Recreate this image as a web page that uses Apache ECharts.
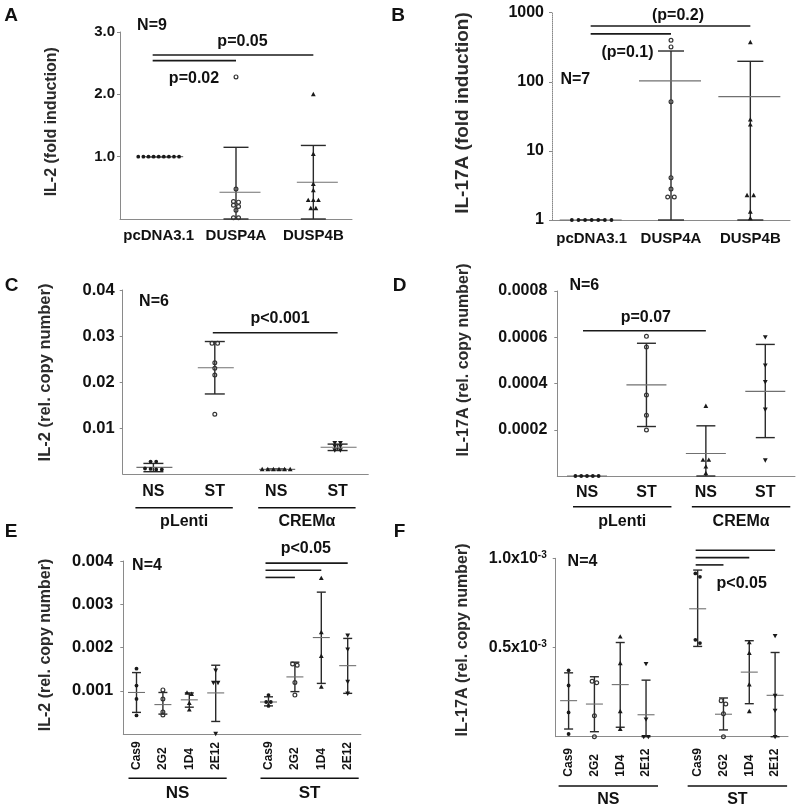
<!DOCTYPE html>
<html><head><meta charset="utf-8">
<script src="https://cdn.jsdelivr.net/npm/echarts@6/dist/echarts.min.js"></script>
<style>html,body{margin:0;padding:0;background:#fff}#c{width:800px;height:810px}</style>
</head><body><div id="c"></div>
<script>
// ================= DATA =================
// Panel A  IL-2 fold induction
const catsA = ['pcDNA3.1', 'DUSP4A', 'DUSP4B'];
const a_pcDNA = [1, 1, 1, 1, 1, 1, 1, 1, 1];
const a_DUSP4A = [2.28, 0.48, 0.28, 0.27, 0.22, 0.20, 0.14, 0.02, 0.02];
const a_DUSP4B = [2.0, 1.04, 0.56, 0.46, 0.30, 0.30, 0.30, 0.17, 0.17];
const a_mean = [1.0, 0.43, 0.59];
const a_hi = [1.0, 1.15, 1.18];
const a_lo = [1.0, 0, 0];
const a_sig = [[0, 1, 2.54], [0, 2, 2.63]];
const a_ticks = [0, 1, 2, 3];

// Panel B  IL-17A fold induction (log)
const catsB = ['pcDNA3.1', 'DUSP4A', 'DUSP4B'];
const b_pcDNA = [1, 1, 1, 1, 1, 1, 1];
const b_DUSP4A = [400, 320, 51.6, 4.1, 2.8, 2.15, 2.15];
const b_DUSP4B = [371, 28.2, 23.9, 2.27, 2.27, 1.31, 1.05];
const b_mean = [1, 103, 61];
const b_hi = [1, 279, 198];
const b_lo = [1, 1, 1];
const b_sig = [[0, 1, 493], [0, 2, 641]];
const b_ticks = [1, 10, 100, 1000];

// Panel C  IL-2 rel. copy number
const catsC = ['NS', 'ST', 'NS', 'ST'];
const groupsC = ['pLenti', 'CREMα'];
const c_pLenti_NS = [0.0027, 0.0027, 0.0012, 0.0011, 0.0010, 0.0010];
const c_pLenti_ST = [0.0284, 0.0284, 0.0242, 0.0230, 0.0215, 0.0130];
const c_CREM_NS = [0.0010, 0.0010, 0.0010, 0.0010, 0.0010, 0.0010];
const c_CREM_ST = [0.0068, 0.0068, 0.0061, 0.0061, 0.0052, 0.0052];
const c_mean = [0.00145, 0.0231, 0.0010, 0.0058];
const c_hi = [0.0023, 0.0288, 0.0011, 0.0065];
const c_lo = [0.0005, 0.0174, 0.0009, 0.0051];
const c_sig = [[1, 3, 0.0307]];

// Panel D  IL-17A rel. copy number
const catsD = ['NS', 'ST', 'NS', 'ST'];
const groupsD = ['pLenti', 'CREMα'];
const d_pLenti_NS = [0, 0, 0, 0, 0];
const d_pLenti_ST = [0.000604, 0.000558, 0.00035, 0.000263, 0.000199];
const d_CREM_NS = [0.000302, 0.000069, 0.000069, 0.00004, 0.0000115];
const d_CREM_ST = [0.000601, 0.000479, 0.000407, 0.000288, 0.000069];
const d_mean = [0, 0.000394, 0.000097, 0.000366];
const d_hi = [0, 0.000574, 0.000217, 0.000569];
const d_lo = [0, 0.000214, 0, 0.000166];
const d_sig = [[0, 2, 0.000628]];

// Panel E  IL-2 rel. copy number (CRISPR clones)
const catsE = ['Cas9', '2G2', '1D4', '2E12', '', 'Cas9', '2G2', '1D4', '2E12'];
const groupsE = ['NS', 'ST'];
const e_NS_Cas9 = [0.00151, 0.00112, 0.00081, 0.00043];
const e_NS_2G2 = [0.00102, 0.00081, 0.00051, 0.00044];
const e_NS_1D4 = [0.00095, 0.00092, 0.00071, 0.00056];
const e_NS_2E12 = [0.00147, 0.00119, 0.00119, 0.00001];
const e_ST_Cas9 = [0.00090, 0.00074, 0.00074, 0.00065];
const e_ST_2G2 = [0.00162, 0.00159, 0.00119, 0.00090];
const e_ST_1D4 = [0.00360, 0.00235, 0.00180, 0.00109];
const e_ST_2E12 = [0.00228, 0.00196, 0.00121, 0.00094];
const e_mean = [0.00096, 0.00068, 0.00079, 0.00095, null, 0.00074, 0.00132, 0.00223, 0.00158];
const e_hi = [0.00142, 0.00096, 0.00095, 0.00159, null, 0.00086, 0.00166, 0.00328, 0.00221];
const e_lo = [0.00050, 0.00046, 0.00062, 0.00029, null, 0.00065, 0.00098, 0.00117, 0.00094];
const e_sig = [[5, 6, 0.00362], [5, 7, 0.003785], [5, 8, 0.00395]];

// Panel F  IL-17A rel. copy number (CRISPR clones)
const catsF = ['Cas9', '2G2', '1D4', '2E12', '', 'Cas9', '2G2', '1D4', '2E12'];
const groupsF = ['NS', 'ST'];
const f_NS_Cas9 = [0.000372, 0.000287, 0.000136, 0.000015];
const f_NS_2G2 = [0.000311, 0.000302, 0.000117, 0];
const f_NS_1D4 = [0.000560, 0.000411, 0.000142, 0.000042];
const f_NS_2E12 = [0.000409, 0.000098, 0, 0];
const f_ST_Cas9 = [0.000915, 0.000896, 0.000543, 0.000525];
const f_ST_2G2 = [0.000202, 0.000183, 0.000128, 0];
const f_ST_1D4 = [0.000528, 0.000468, 0.000292, 0.000142];
const f_ST_2E12 = [0.000566, 0.000230, 0.000147, 0];
const f_mean = [0.000202, 0.000183, 0.000292, 0.000123, null, 0.000717, 0.000126, 0.000362, 0.000232];
const f_hi = [0.000358, 0.000336, 0.000528, 0.000317, null, 0.000934, 0.000217, 0.000538, 0.000472];
const f_lo = [0.000043, 0.000028, 0.000053, 0, null, 0.000506, 0.000038, 0.000185, 0];
const f_sig = [[5, 6, 0.000963], [5, 7, 0.001004], [5, 8, 0.001045]];

// ================= STYLE / LAYOUT =================
const FONT = '"Liberation Sans", Arial, Helvetica, sans-serif';
const INK = '#111';
const AXIS = '#8a8a8a';
const grids = [
  {left: 120, top: 32, width: 232, height: 187},
  {left: 552, top: 12.7, width: 238, height: 207.3},
  {left: 122.7, top: 290, width: 245.6, height: 184},
  {left: 557.3, top: 291, width: 237.7, height: 185},
  {left: 123.3, top: 561, width: 237.6, height: 173},
  {left: 555.7, top: 558.3, width: 232.3, height: 178.4}
];
const PS = [
  {mean: 20.5, mdx: 4, cap: 12.5, spacing: 5.1, thr: 3, sigDx: -6},
  {mean: 31, mdx: -1, cap: 13, spacing: 6.6, thr: 3, sigDx: -1},
  {mean: 18, mdx: 1, cap: 10, spacing: 5.6, thr: 3, sigDx: -2},
  {mean: 20, mdx: 0, cap: 9.5, spacing: 5.8, thr: 3, sigDx: -4},
  {mean: 8.5, mdx: 0, cap: 4.5, spacing: 4.6, thr: 3, sigDx: -3},
  {mean: 8.5, mdx: 0, cap: 4.5, spacing: 4.6, thr: 4, sigDx: -2}
];

function marker(m, x, y) {
  const col = '#1a1a1a';
  if (m === 'dot') return {type: 'circle', shape: {cx: x, cy: y, r: 1.9}, style: {fill: col}};
  if (m === 'open') return {type: 'circle', shape: {cx: x, cy: y, r: 1.9}, style: {fill: 'rgba(0,0,0,0)', stroke: '#333', lineWidth: 1.2}};
  if (m === 'tri') return {type: 'polygon', shape: {points: [[x, y - 2.6], [x - 2.4, y + 1.8], [x + 2.4, y + 1.8]]}, style: {fill: col}};
  return {type: 'polygon', shape: {points: [[x, y + 2.6], [x - 2.4, y - 1.8], [x + 2.4, y - 1.8]]}, style: {fill: col}};
}

function pointsSeries(gi, cat, vals, m) {
  const st = PS[gi];
  return {
    type: 'custom', xAxisIndex: gi, yAxisIndex: gi, clip: false, z: 5,
    data: vals.map(v => [cat, v]), encode: {x: 0, y: 1},
    renderItem(params, api) {
      const i = params.dataIndex;
      const ys = vals.map(v => api.coord([cat, v])[1]);
      const order = ys.map((y, k) => k).sort((p, q) => (ys[p] - ys[q]) || (p - q));
      const clusters = [];
      let cur = [order[0]];
      for (let k = 1; k < order.length; k++) {
        if (ys[order[k]] - ys[cur[cur.length - 1]] < st.thr) cur.push(order[k]);
        else { clusters.push(cur); cur = [order[k]]; }
      }
      clusters.push(cur);
      let dx = 0;
      clusters.forEach(c => { const pos = c.indexOf(i); if (pos >= 0) dx = (pos - (c.length - 1) / 2) * st.spacing; });
      const p = api.coord([cat, vals[i]]);
      return marker(m, p[0] + dx, p[1]);
    }
  };
}

function errSeries(gi, means, lo, hi) {
  const st = PS[gi];
  const data = means.map((mv, k) => [k, mv, lo[k], hi[k]]).filter(d => d[1] != null);
  return {
    type: 'custom', xAxisIndex: gi, yAxisIndex: gi, clip: false, z: 3,
    data, encode: {x: 0, y: [1, 2, 3]},
    renderItem(params, api) {
      const k = api.value(0);
      const pm = api.coord([k, api.value(1)]);
      const pl = api.coord([k, api.value(2)]);
      const ph = api.coord([k, api.value(3)]);
      const x = pm[0];
      const ls = {stroke: '#2a2a2a', lineWidth: 1.4};
      return {type: 'group', children: [
        {type: 'line', shape: {x1: x, y1: pl[1], x2: x, y2: ph[1]}, style: ls},
        {type: 'line', shape: {x1: x - st.cap, y1: ph[1], x2: x + st.cap, y2: ph[1]}, style: ls},
        {type: 'line', shape: {x1: x - st.cap, y1: pl[1], x2: x + st.cap, y2: pl[1]}, style: ls},
        {type: 'line', shape: {x1: x - st.mean + st.mdx, y1: pm[1], x2: x + st.mean + st.mdx, y2: pm[1]}, style: {stroke: '#707070', lineWidth: 1.1}}
      ]};
    }
  };
}

function sigSeries(gi, sig) {
  const st = PS[gi];
  return {
    type: 'custom', xAxisIndex: gi, yAxisIndex: gi, clip: false, z: 4,
    data: sig, encode: {x: [0, 1], y: 2},
    renderItem(params, api) {
      const p1 = api.coord([api.value(0), api.value(2)]);
      const p2 = api.coord([api.value(1), api.value(2)]);
      return {type: 'line', shape: {x1: p1[0] + st.sigDx, y1: p1[1], x2: p2[0], y2: p2[1]}, style: {stroke: '#1a1a1a', lineWidth: 1.6}};
    }
  };
}

function bracketSeries(gi, spans, names, o) {
  return {
    type: 'custom', xAxisIndex: gi, yAxisIndex: gi, clip: false, z: 4,
    data: spans.map(s => [s[0], s[1], 0]), encode: {x: [0, 1], y: 2},
    renderItem(params, api) {
      const cs = params.coordSys;
      const yb = cs.y + cs.height;
      const x1 = api.coord([api.value(0), 0])[0] - o.extL;
      const x2 = api.coord([api.value(1), 0])[0] + o.extR;
      return {type: 'group', children: [
        {type: 'line', shape: {x1, y1: yb + o.lineDy, x2, y2: yb + o.lineDy}, style: {stroke: '#111', lineWidth: 1.6}},
        {type: 'text', x: (x1 + x2) / 2, y: yb + o.textDy,
          style: {text: names[params.dataIndex], fill: INK, fontSize: o.size, fontWeight: 'bold', fontFamily: FONT, align: 'center', verticalAlign: 'middle'}}
      ]};
    }
  };
}

function xCat(gi, cats, lab) {
  return {gridIndex: gi, type: 'category', data: cats, boundaryGap: true,
    axisLine: {lineStyle: {color: AXIS, width: 1}},
    axisTick: {alignWithLabel: true, length: 3, lineStyle: {color: AXIS}},
    axisLabel: Object.assign({interval: 0, color: INK, fontWeight: 'bold', fontFamily: FONT, fontSize: 15, margin: 9}, lab)};
}
function yVal(gi, o, lab) {
  return Object.assign({gridIndex: gi, type: 'value', splitLine: {show: false},
    axisLine: {show: true, lineStyle: {color: AXIS}},
    axisTick: {show: true, length: 3, lineStyle: {color: AXIS}},
    axisLabel: Object.assign({color: INK, fontWeight: 'bold', fontFamily: FONT, fontSize: 16, margin: 9, showMinLabel: false}, lab)}, o);
}
const rotLab = {rotate: 90, align: 'left', verticalAlign: 'middle', fontSize: 12};

const option = {
  animation: false,
  backgroundColor: '#fff',
  grid: grids,
  xAxis: [
    xCat(0, catsA, {margin: 9}),
    xCat(1, catsB, {margin: 11}),
    xCat(2, catsC, {fontSize: 16, margin: 10}),
    xCat(3, catsD, {fontSize: 16, margin: 9}),
    xCat(4, catsE, Object.assign({margin: 36}, rotLab)),
    xCat(5, catsF, Object.assign({margin: 40}, rotLab))
  ],
  yAxis: [
    yVal(0, {min: a_ticks[0], max: a_ticks[3], interval: 1}, {fontSize: 15, margin: 5, formatter: v => v.toFixed(1)}),
    yVal(1, {type: 'log', logBase: 10, min: b_ticks[0], max: b_ticks[3], axisLine: {show: true, lineStyle: {color: '#888', type: 'dotted'}}},
      {showMinLabel: true, margin: 8, formatter: v => String(Math.round(v))}),
    yVal(2, {min: 0, max: 0.04, interval: 0.01}, {fontSize: 16.5, margin: 8, formatter: v => v.toFixed(2)}),
    yVal(3, {min: 0, max: 0.0008, interval: 0.0002}, {margin: 10, formatter: v => v.toFixed(4)}),
    yVal(4, {min: 0, max: 0.004, interval: 0.001}, {fontSize: 16.5, margin: 10, formatter: v => v.toFixed(3)}),
    yVal(5, {min: 0, max: 0.001, interval: 0.0005}, {margin: 9,
      formatter: v => '{m|' + (v * 1000).toFixed(1) + 'x10}{s|-3}',
      rich: {m: {fontSize: 16, fontWeight: 'bold', fontFamily: FONT, color: INK},
             s: {fontSize: 10, fontWeight: 'bold', fontFamily: FONT, color: INK, verticalAlign: 'top'}}})
  ],
  series: [
    // A
    errSeries(0, a_mean, a_lo, a_hi),
    pointsSeries(0, 0, a_pcDNA, 'dot'), pointsSeries(0, 1, a_DUSP4A, 'open'), pointsSeries(0, 2, a_DUSP4B, 'tri'),
    sigSeries(0, a_sig),
    // B
    errSeries(1, b_mean, b_lo, b_hi),
    pointsSeries(1, 0, b_pcDNA, 'dot'), pointsSeries(1, 1, b_DUSP4A, 'open'), pointsSeries(1, 2, b_DUSP4B, 'tri'),
    sigSeries(1, b_sig),
    // C
    errSeries(2, c_mean, c_lo, c_hi),
    pointsSeries(2, 0, c_pLenti_NS, 'dot'), pointsSeries(2, 1, c_pLenti_ST, 'open'),
    pointsSeries(2, 2, c_CREM_NS, 'tri'), pointsSeries(2, 3, c_CREM_ST, 'tridown'),
    sigSeries(2, c_sig),
    bracketSeries(2, [[0, 1], [2, 3]], groupsC, {lineDy: 33.7, textDy: 48, extL: 18, extR: 18, size: 16}),
    // D
    errSeries(3, d_mean, d_lo, d_hi),
    pointsSeries(3, 0, d_pLenti_NS, 'dot'), pointsSeries(3, 1, d_pLenti_ST, 'open'),
    pointsSeries(3, 2, d_CREM_NS, 'tri'), pointsSeries(3, 3, d_CREM_ST, 'tridown'),
    sigSeries(3, d_sig),
    bracketSeries(3, [[0, 1], [2, 3]], groupsD, {lineDy: 30.7, textDy: 45.7, extL: 14, extR: 25, size: 16}),
    // E
    errSeries(4, e_mean, e_lo, e_hi),
    pointsSeries(4, 0, e_NS_Cas9, 'dot'), pointsSeries(4, 1, e_NS_2G2, 'open'),
    pointsSeries(4, 2, e_NS_1D4, 'tri'), pointsSeries(4, 3, e_NS_2E12, 'tridown'),
    pointsSeries(4, 5, e_ST_Cas9, 'dot'), pointsSeries(4, 6, e_ST_2G2, 'open'),
    pointsSeries(4, 7, e_ST_1D4, 'tri'), pointsSeries(4, 8, e_ST_2E12, 'tridown'),
    sigSeries(4, e_sig),
    bracketSeries(4, [[0, 3], [5, 8]], groupsE, {lineDy: 44.3, textDy: 59.3, extL: 8, extR: 11, size: 17}),
    // F
    errSeries(5, f_mean, f_lo, f_hi),
    pointsSeries(5, 0, f_NS_Cas9, 'dot'), pointsSeries(5, 1, f_NS_2G2, 'open'),
    pointsSeries(5, 2, f_NS_1D4, 'tri'), pointsSeries(5, 3, f_NS_2E12, 'tridown'),
    pointsSeries(5, 5, f_ST_Cas9, 'dot'), pointsSeries(5, 6, f_ST_2G2, 'open'),
    pointsSeries(5, 7, f_ST_1D4, 'tri'), pointsSeries(5, 8, f_ST_2E12, 'tridown'),
    sigSeries(5, f_sig),
    bracketSeries(5, [[0, 3], [5, 8]], groupsF, {lineDy: 49.3, textDy: 63.3, extL: 10, extR: 12, size: 16})
  ]
};

function txt(text, x, y, size, rot) {
  return {type: 'text', x, y, rotation: rot || 0, z: 10,
    style: {text, fill: INK, fontSize: size, fontWeight: 'bold', fontFamily: FONT, align: 'center', verticalAlign: 'middle'}};
}
const R = Math.PI / 2;
const TITLE = '#2b2b2b';
function title(text, x, y, size) {
  const t = txt(text, x, y, size, R); t.style.fill = TITLE; return t;
}
option.graphic = {elements: [
  // panel letters
  txt('A', 11, 15.5, 19), txt('B', 398, 16, 19), txt('C', 11.5, 285.5, 19),
  txt('D', 399.5, 285.5, 19), txt('E', 11, 531.7, 19), txt('F', 399.5, 531.7, 19),
  // axis titles
  title('IL-2 (fold induction)', 52, 121.7, 16),
  title('IL-17A (fold induction)', 463, 113, 19),
  title('IL-2 (rel. copy number)', 45.7, 372.5, 16.5),
  title('IL-17A (rel. copy number)', 463.3, 360, 16),
  title('IL-2 (rel. copy number)', 45.7, 645, 16),
  title('IL-17A (rel. copy number)', 463, 640, 16),
  // N labels
  txt('N=9', 152, 25.3, 16), txt('N=7', 575.3, 80, 16), txt('N=6', 154, 302, 16),
  txt('N=6', 584.3, 286, 16), txt('N=4', 147, 566, 16), txt('N=4', 582.5, 562, 16),
  // p labels
  txt('p=0.05', 242.5, 42, 16), txt('p=0.02', 194, 79, 16),
  txt('(p=0.2)', 678, 15.5, 16), txt('(p=0.1)', 627.5, 52.5, 16),
  txt('p<0.001', 280, 319, 16), txt('p=0.07', 645.8, 317.5, 16),
  txt('p<0.05', 305.8, 549, 16), txt('p<0.05', 741.7, 583.3, 16)
]};

const chart = echarts.init(document.getElementById('c'), null, {renderer: 'canvas', width: 800, height: 810});
chart.setOption(option);
</script>
</body></html>
